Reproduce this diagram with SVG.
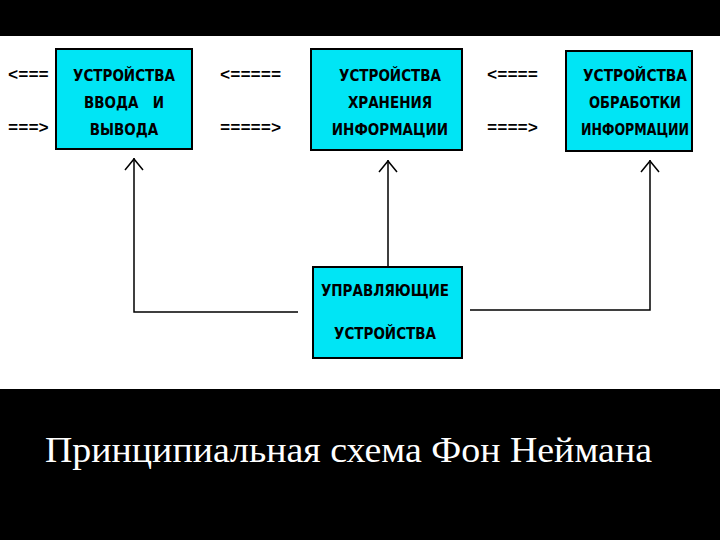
<svg xmlns="http://www.w3.org/2000/svg" width="720" height="540" viewBox="0 0 720 540">
<style>
.box{fill:#00e5f5;stroke:#000;stroke-width:2}
.t{font-family:"DejaVu Sans Condensed","Liberation Sans",sans-serif;font-weight:bold;font-size:15px;fill:#000;text-anchor:middle}
.a{font-family:"Liberation Mono",monospace;font-weight:bold;font-size:17px;fill:#000}
.ln{fill:none;stroke:#000;stroke-width:1.5}
</style>
<rect width="720" height="540" fill="#000"/>
<rect y="36" width="720" height="353" fill="#fff"/>
<g id="io"><rect class="box" x="56" y="49" width="136" height="100"/>
<text class="t" x="124" y="81">УСТРОЙСТВА</text><text class="t" x="124" y="108" xml:space="preserve">ВВОДА   И</text><text class="t" x="124" y="135">ВЫВОДА</text></g>
<g id="mem"><rect class="box" x="311" y="49" width="151" height="101"/>
<text class="t" x="390" y="81">УСТРОЙСТВА</text><text class="t" x="390" y="108">ХРАНЕНИЯ</text><text class="t" x="390" y="135">ИНФОРМАЦИИ</text></g>
<g id="cpu"><rect class="box" x="566" y="51" width="126" height="100"/>
<text class="t" x="635" y="81" textLength="104" lengthAdjust="spacingAndGlyphs">УСТРОЙСТВА</text><text class="t" x="635" y="108" textLength="92" lengthAdjust="spacingAndGlyphs">ОБРАБОТКИ</text><text class="t" x="635" y="135" textLength="108" lengthAdjust="spacingAndGlyphs">ИНФОРМАЦИИ</text></g>
<g id="ctl"><rect class="box" x="313" y="267" width="149" height="91"/>
<text class="t" x="385" y="296">УПРАВЛЯЮЩИЕ</text><text class="t" x="385" y="339">УСТРОЙСТВА</text></g>
<g id="connectors">
<text class="a" x="8" y="80">&lt;===</text><text class="a" x="8" y="133">===&gt;</text>
<text class="a" x="220" y="80">&lt;=====</text><text class="a" x="220" y="133">=====&gt;</text>
<text class="a" x="487" y="80">&lt;====</text><text class="a" x="487" y="133">====&gt;</text>
<path class="ln" d="M298 312H134V158M388 267V160M470 310H650V160"/>
<path class="ln" stroke-width="2" d="M125 170L134 159L143 170M379 172L388 161L397 172M641 172L650 161L659 172"/>
</g>
<text x="45" y="462" font-family="Liberation Serif,serif" font-size="35" fill="#fff" textLength="607" lengthAdjust="spacingAndGlyphs">Принципиальная схема Фон Неймана</text>
</svg>
